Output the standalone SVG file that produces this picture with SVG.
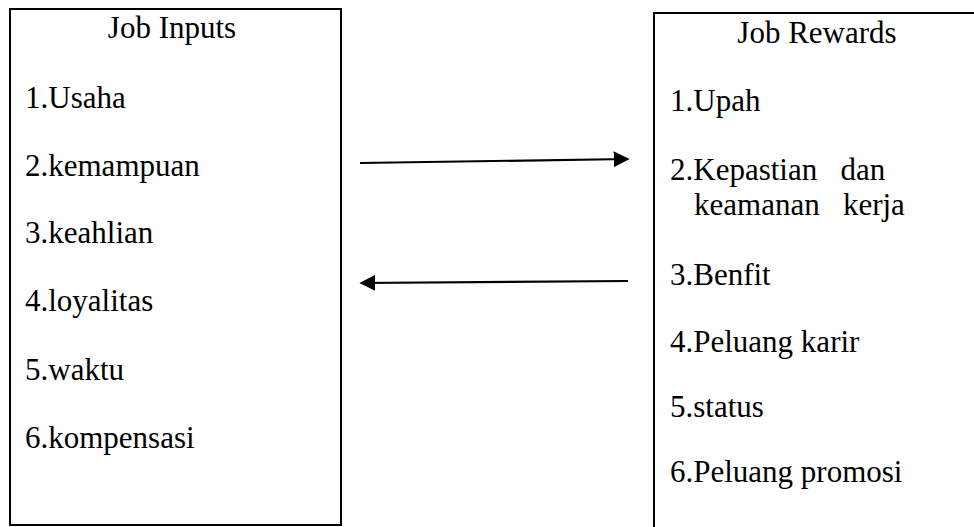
<svg xmlns="http://www.w3.org/2000/svg" width="974" height="527" viewBox="0 0 974 527">
<style>
.box{fill:#fff;stroke:#000;stroke-width:2}
.t{font-family:"Liberation Serif","Times New Roman",serif;font-size:31px;fill:#000}
.c{text-anchor:middle}
.conn{stroke:#000;stroke-width:2.2;fill:none}
</style>
<defs>
<marker id="ah" viewBox="0 0 10 10" refX="9" refY="5" markerWidth="16" markerHeight="16" markerUnits="userSpaceOnUse" orient="auto">
<path d="M0,0 L10,5 L0,10 Z" fill="#000"/>
</marker>
</defs>
<rect width="974" height="527" fill="#fff"/>
<g id="job-inputs">
<rect class="box" x="10" y="9" width="331" height="516"/>
<text class="t c" x="172" y="38">Job Inputs</text>
<text class="t" x="25" y="108">1.Usaha</text>
<text class="t" x="25" y="176">2.kemampuan</text>
<text class="t" x="25" y="243">3.keahlian</text>
<text class="t" x="25" y="311">4.loyalitas</text>
<text class="t" x="25" y="380">5.waktu</text>
<text class="t" x="25" y="448">6.kompensasi</text>
</g>
<g id="job-rewards">
<rect class="box" x="654" y="13" width="340" height="540"/>
<text class="t c" x="817" y="43">Job Rewards</text>
<text class="t" x="670" y="111">1.Upah</text>
<text class="t" x="670" y="180" xml:space="preserve">2.Kepastian   dan</text>
<text class="t" x="694" y="215" xml:space="preserve">keamanan   kerja</text>
<text class="t" x="670" y="285">3.Benfit</text>
<text class="t" x="670" y="352">4.Peluang karir</text>
<text class="t" x="670" y="417">5.status</text>
<text class="t" x="670" y="482">6.Peluang promosi</text>
</g>
<g id="connectors">
<line class="conn" x1="360" y1="163" x2="628" y2="159" marker-end="url(#ah)"/>
<line class="conn" x1="628" y1="281" x2="361" y2="283" marker-end="url(#ah)"/>
</g>
</svg>
